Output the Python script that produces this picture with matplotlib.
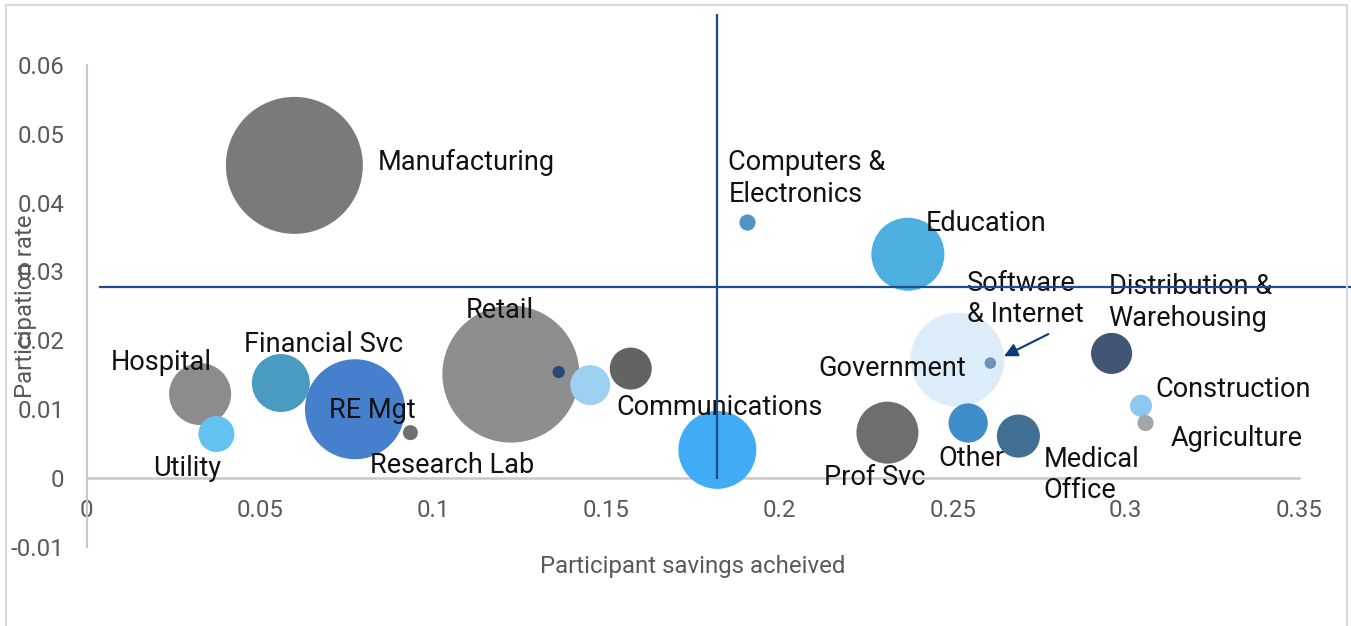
import numpy as np
import matplotlib
matplotlib.use("Agg")
import matplotlib.pyplot as plt
from matplotlib.patches import Rectangle

plt.rcParams['font.family'] = ['Roboto', 'DejaVu Sans']

# bubble data (drawing order = list order)
industries = ['Manufacturing', 'Hospital', 'Utility', 'Financial Svc', 'RE Mgt',
              'Research Lab', 'Retail', '', '', '', 'Communications',
              'Computers &\nElectronics', 'Education', 'Government', 'Software\n& Internet',
              'Prof Svc', 'Other', 'Medical\nOffice', 'Distribution &\nWarehousing',
              'Construction', 'Agriculture']
savings = [0.0600, 0.0328, 0.0375, 0.0561, 0.0775, 0.0935, 0.1225, 0.1363, 0.1454,
           0.1571, 0.1821, 0.1908, 0.2371, 0.2514, 0.2609, 0.2312, 0.2545, 0.2690,
           0.2959, 0.3044, 0.3057]
participation = [0.0454, 0.0122, 0.0064, 0.0138, 0.0100, 0.0066, 0.0151, 0.0154, 0.0135,
                 0.0159, 0.0041, 0.0371, 0.0325, 0.0172, 0.0167, 0.0066, 0.0080, 0.0061,
                 0.0181, 0.0105, 0.0080]
bubble_size = [100, 20.5, 6.9, 17.9, 53.3, 1.2, 100, 0.8, 8.5, 9.4, 32.4, 1.4, 28.4,
               47.1, 0.7, 20.5, 8.2, 9.9, 9.0, 2.6, 1.4]
colors = ['#7a7a7c', '#8c8c8d', '#63c3f0', '#4a9bc2', '#4680cc', '#6f6f6f', '#8e8e8e',
          '#26497a', '#9dd0f1', '#636363', '#41abf6', '#5194c4', '#4daee0', '#dcedf9',
          '#6b92bd', '#6e6e6e', '#3f8dc9', '#426f94', '#415674', '#8cc8ef', '#a5a5a5']

# label offsets from bubble centre, pixels (right, up)
label_offsets = [(83, 3), (-89, 32), (-63, -34), (-37, 39), (-26, -1), (-40, -33),
                 (-45, 64), (0, 0), (0, 0), (0, 0), (-101, 42), (-19, 44), (18, 31),
                 (-139, -9), (-23, 64), (-63, -45), (-30, -35), (25, -39), (-3, 51),
                 (14, 16), (25, -15)]

# reference lines (averages)
avg_savings = 0.182
avg_participation = 0.0278

xticks = [0, 0.05, 0.1, 0.15, 0.2, 0.25, 0.3, 0.35]
xticklabels = ['0', '0.05', '0.1', '0.15', '0.2', '0.25', '0.3', '0.35']
yticks = [-0.01, 0, 0.01, 0.02, 0.03, 0.04, 0.05, 0.06]
yticklabels = ['-0.01', '0', '0.01', '0.02', '0.03', '0.04', '0.05', '0.06']

W, H = 1351, 626
fig = plt.figure(figsize=(W / 100, H / 100), dpi=100)
ax = fig.add_axes([86.5 / W, 1 - 547 / H, (1299 - 86.5) / W, (547 - 64.8) / H])
ax.set_xlim(0, 0.35)
ax.set_ylim(-0.01, 0.06)

px2pt = 0.72
max_r = 68.5  # px radius of the largest bubble
sizes = [(2 * max_r * np.sqrt(b / max(bubble_size)) * px2pt) ** 2 for b in bubble_size]
ax.scatter(savings, participation, s=sizes, c=colors, edgecolors='none', zorder=2)

for name, x, y, (dx, dy) in zip(industries, savings, participation, label_offsets):
    if not name:
        continue
    ax.annotate(name, (x, y), xytext=(dx * px2pt, dy * px2pt), textcoords='offset points',
                ha='left', va='center', fontsize=19.5, color='#111111', zorder=4)

# arrow for Software & Internet
i_sw = industries.index('Software\n& Internet')
ax.annotate('', xy=(savings[i_sw], participation[i_sw]),
            xytext=(58 * px2pt, 29 * px2pt), textcoords='offset points',
            arrowprops=dict(arrowstyle='-|>', color='#0b3a78', lw=1.5,
                            shrinkA=0, shrinkB=11, mutation_scale=20), zorder=5)

line_col = '#1d4c8c'
ax.plot([avg_savings, avg_savings], [0, 0.0672], color=line_col, lw=1.6,
        zorder=6, clip_on=False)
ax.plot([0.004, 0.37], [avg_participation, avg_participation], color=line_col, lw=1.6,
        zorder=6, clip_on=False)

for s in ['top', 'right']:
    ax.spines[s].set_visible(False)
ax.spines['left'].set_color('#c8c8c8')
ax.spines['left'].set_linewidth(1.5)
ax.spines['bottom'].set_position(('data', 0))
ax.spines['bottom'].set_color('#c8c8c8')
ax.spines['bottom'].set_linewidth(1.8)
ax.spines['bottom'].set_zorder(1)

ax.set_xticks(xticks)
ax.set_xticklabels(xticklabels)
ax.set_yticks(yticks)
ax.set_yticklabels(yticklabels)
ax.tick_params(axis='x', length=0, pad=15, labelsize=17.3, labelcolor='#595959')
ax.tick_params(axis='y', length=0, pad=16, labelsize=17.3, labelcolor='#595959')

ax.set_xlabel('Participant savings acheived', fontsize=17.3, color='#595959')
ax.xaxis.label.set_va('center')
ax.xaxis.set_label_coords(0.5, (547 - 567) / 482.2)
ax.set_ylabel('Participation rate', fontsize=17.3, color='#595959')
ax.yaxis.label.set_va('center')
ax.yaxis.set_label_coords((26 - 86.5) / 1212.5, 0.5)

# chart frame
fig.patches.append(Rectangle((6 / W, -0.1), (1347 - 6) / W, 1 - 5 / H + 0.1,
                             transform=fig.transFigure, fill=False,
                             ec='#d9d9d9', lw=1.5))

fig.savefig('out.png', dpi=100)
